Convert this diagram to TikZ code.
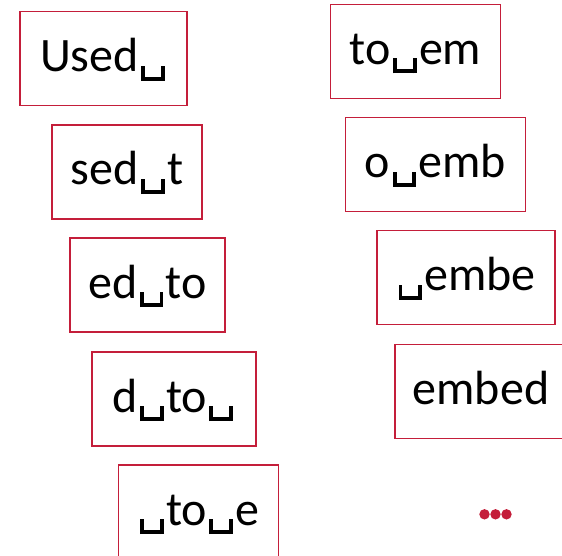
\documentclass[tikz,border=0pt]{standalone}
\usepackage{fontspec}
\setmainfont{Carlito}

\definecolor{boxred}{RGB}{196,30,58}

% visible space, drawn as a bracket below the baseline
\newcommand\vs{\kern0.05em\raisebox{-0.19em}{\rule{0.08em}{0.31em}\rule{0.33em}{0.08em}\rule{0.08em}{0.31em}}\kern0.05em}

\tikzset{
  window/.style={draw=boxred, line width=1.1pt, minimum height=94pt,
    text height=36pt, text depth=10pt, inner xsep=0pt,
    font=\fontsize{48}{56}\selectfont},
}

\begin{document}
\begin{tikzpicture}[x=1pt, y=-1pt]

  \useasboundingbox (0,0) rectangle (562,556);
  \clip (0,0) rectangle (562,556);

  % --- 1. left column ---
  \node[window, minimum width=167] (used) at (103.5,58.5) {Used\vs};
  \node[window, minimum width=150] (sedt) at (127,172)    {sed\vs t};
  \node[window, minimum width=155] (edto) at (147.5,285)  {ed\vs to};
  \node[window, minimum width=164] (dto)  at (174,399)    {d\vs to\vs};
  \node[window, minimum width=160] (toe)  at (198.5,512)  {\vs to\vs e};

  % --- 2. right column ---
  \node[window, minimum width=170] (toem)  at (415.5,51.2)  {to\vs em};
  \node[window, minimum width=180] (oemb)  at (435.5,164.5) {o\vs emb};
  \node[window, minimum width=178] (embe)  at (466,277.7)   {\vs embe};
  \node[window, minimum width=172] (embed) at (481,391.5)   {embed};

  % --- 3. dots ---
  \foreach \dx in {484.5,495.5,506.5}
    \fill[boxred] (\dx,514.3) circle (5.2);

\end{tikzpicture}
\end{document}
